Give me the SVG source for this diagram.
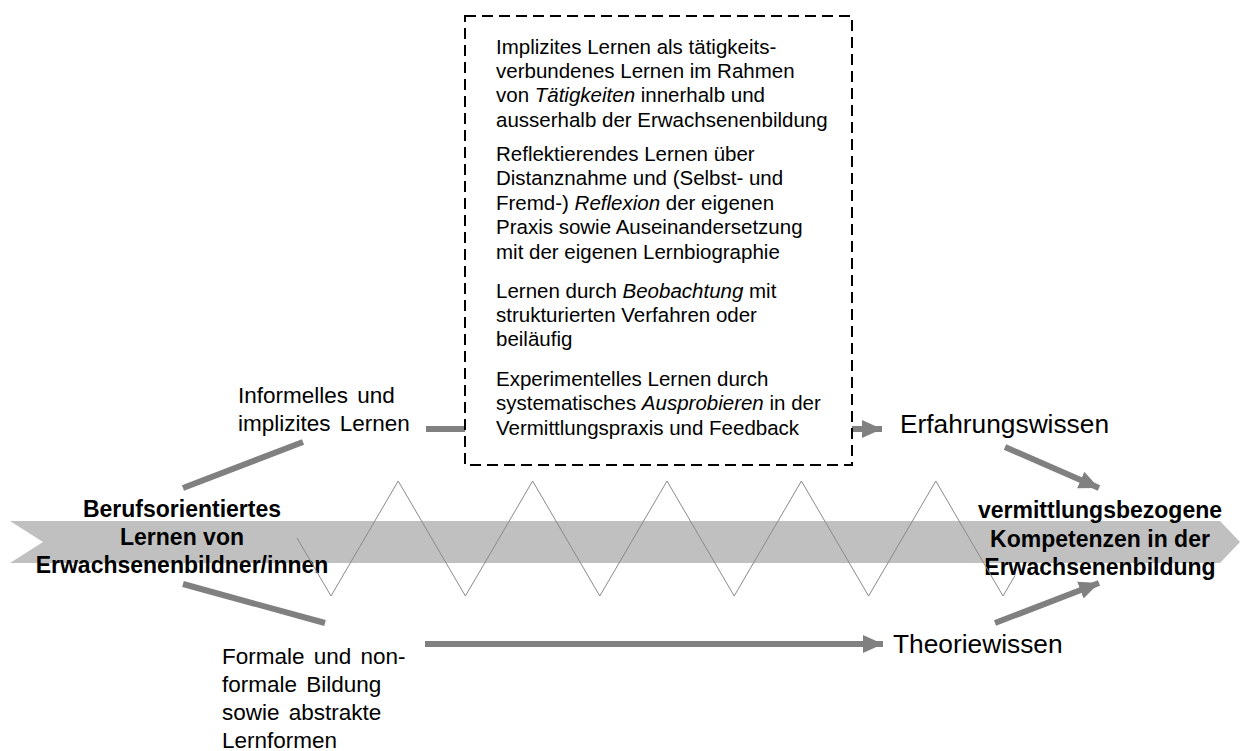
<svg xmlns="http://www.w3.org/2000/svg" width="1241" height="751" viewBox="0 0 1241 751">
<style>
text{font-family:"Liberation Sans",Arial,sans-serif;fill:#000}
.box{font-size:20.5px}
.lbl{font-size:22.5px;word-spacing:3px}
.big{font-size:26.3px}
.bold{font-size:23px;font-weight:bold;text-anchor:middle}
.conn{stroke:#808080;stroke-width:6;fill:none}
</style>
<defs>
<marker id="ah" markerUnits="userSpaceOnUse" markerWidth="20" markerHeight="20" viewBox="0 0 20 20" refX="20" refY="10" orient="auto">
<path d="M0,1 L20,10 L0,19 Z" fill="#808080"/>
</marker>
</defs>
<rect width="1241" height="751" fill="#fff"/>
<g id="band">
<path d="M10,521 L1220,521 L1240,542 L1220,563 L10,563 L43,542 Z" fill="#c0c0c0"/>
</g>
<g id="connectors">
<line class="conn" x1="183" y1="488" x2="303" y2="442"/>
<line class="conn" x1="183" y1="584" x2="325" y2="623"/>
<line class="conn" x1="426" y1="429" x2="466" y2="429"/>
<line class="conn" x1="852" y1="429" x2="882" y2="429" marker-end="url(#ah)"/>
<line class="conn" x1="425" y1="644" x2="883" y2="644" marker-end="url(#ah)"/>
<line class="conn" x1="1005" y1="447" x2="1099" y2="488" marker-end="url(#ah)"/>
<line class="conn" x1="995" y1="623" x2="1099" y2="583" marker-end="url(#ah)"/>
</g>
<g id="box">
<rect x="465" y="16" width="387" height="449" fill="#fff" stroke="#000" stroke-width="2" stroke-dasharray="11,6"/>
<text class="box" x="496" y="54">Implizites Lernen als tätigkeits-</text>
<text class="box" x="496" y="78">verbundenes Lernen im Rahmen</text>
<text class="box" x="496" y="102">von <tspan font-style="italic">Tätigkeiten</tspan> innerhalb und</text>
<text class="box" x="496" y="127">ausserhalb der Erwachsenenbildung</text>
<text class="box" x="496" y="161">Reflektierendes Lernen über</text>
<text class="box" x="496" y="185">Distanznahme und (Selbst- und</text>
<text class="box" x="496" y="210">Fremd-) <tspan font-style="italic">Reflexion</tspan> der eigenen</text>
<text class="box" x="496" y="234">Praxis sowie Auseinandersetzung</text>
<text class="box" x="496" y="259">mit der eigenen Lernbiographie</text>
<text class="box" x="496" y="298">Lernen durch <tspan font-style="italic">Beobachtung</tspan> mit</text>
<text class="box" x="496" y="322">strukturierten  Verfahren oder</text>
<text class="box" x="496" y="346">beiläufig</text>
<text class="box" x="496" y="386">Experimentelles Lernen durch</text>
<text class="box" x="496" y="410">systematisches <tspan font-style="italic">Ausprobieren</tspan> in der</text>
<text class="box" x="496" y="435">Vermittlungspraxis und Feedback</text>
</g>
<g id="informell">
<text class="lbl" x="238" y="403">Informelles und</text>
<text class="lbl" x="238" y="431">implizites Lernen</text>
</g>
<g id="formal">
<text class="lbl" x="222" y="664">Formale und non-</text>
<text class="lbl" x="222" y="692">formale Bildung</text>
<text class="lbl" x="222" y="720">sowie abstrakte</text>
<text class="lbl" x="222" y="748">Lernformen</text>
</g>
<g id="erfahrung">
<text class="big" x="900" y="433">Erfahrungswissen</text>
</g>
<g id="theorie">
<text class="big" x="893" y="653">Theoriewissen</text>
</g>
<g id="start">
<text class="bold" x="182" y="517">Berufsorientiertes</text>
<text class="bold" x="182" y="545">Lernen von</text>
<text class="bold" x="182" y="573">Erwachsenenbildner/innen</text>
</g>
<g id="ziel">
<text class="bold" x="1100" y="518">vermittlungsbezogene</text>
<text class="bold" x="1100" y="547">Kompetenzen in der</text>
<text class="bold" x="1100" y="575">Erwachsenenbildung</text>
</g>
<g id="zigzag">
<polyline points="297,538 331,596 398.2,481 465.4,596 532.6,481 599.8,596 667,481 734.2,596 801.4,481 868.6,596 935.8,481 1003,596 1015,575.5" fill="none" stroke="#8a8a8a" stroke-width="1"/>
</g>
</svg>
